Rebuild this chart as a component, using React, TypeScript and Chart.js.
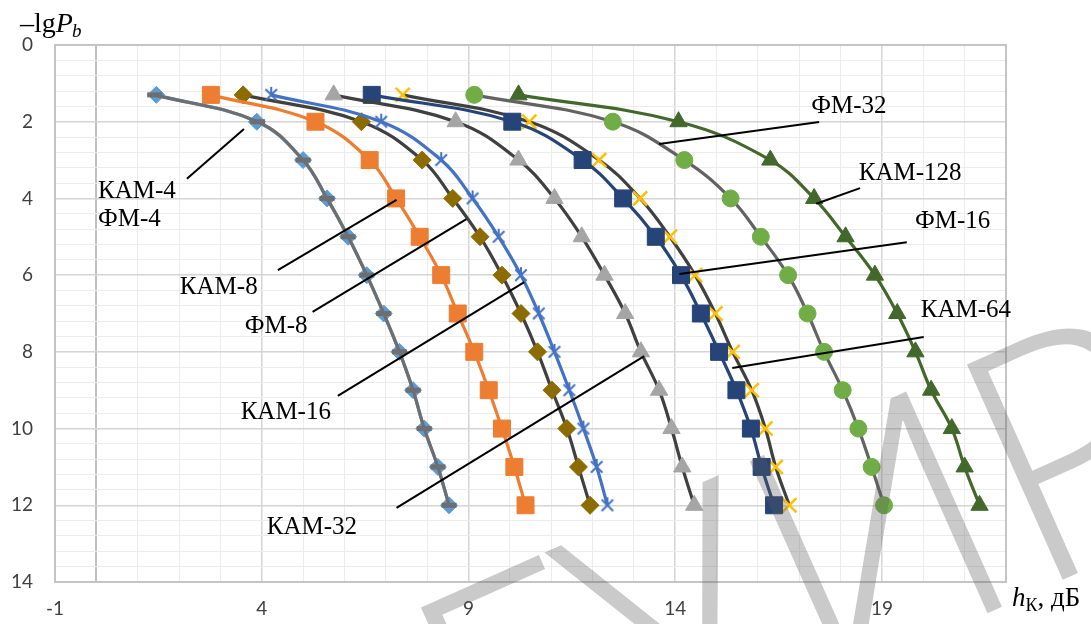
import React, { useEffect, useRef } from "react";
import { Chart, registerables } from "chart.js";

Chart.register(...registerables);

// -lg Pb levels (vertical axis values)
const yLevels = [1.3, 2, 3, 4, 5, 6, 7, 8, 9, 10, 11, 12];

// hK, dB values (horizontal axis) for each modulation
const kam4 = [1.45, 3.88, 5.0, 5.58, 6.09, 6.54, 6.95, 7.33, 7.66, 7.93, 8.26, 8.53];
const fm4 = [1.41, 3.9, 5.0, 5.58, 6.09, 6.54, 6.95, 7.33, 7.66, 7.93, 8.26, 8.53];
const kam8 = [2.77, 5.3, 6.61, 7.25, 7.82, 8.34, 8.74, 9.14, 9.49, 9.81, 10.11, 10.38];
const fm8 = [3.55, 6.41, 7.88, 8.62, 9.28, 9.81, 10.27, 10.67, 11.02, 11.38, 11.66, 11.94];
const kam16 = [4.23, 6.89, 8.34, 9.1, 9.73, 10.27, 10.7, 11.08, 11.44, 11.78, 12.1, 12.36];
const kam32 = [5.74, 8.69, 10.21, 11.08, 11.74, 12.29, 12.79, 13.17, 13.61, 13.91, 14.17, 14.46];
const fm16 = [6.66, 10.06, 11.76, 12.74, 13.53, 14.14, 14.62, 15.06, 15.48, 15.83, 16.09, 16.39];
const kam64 = [7.41, 10.47, 12.16, 13.15, 13.87, 14.48, 14.97, 15.39, 15.85, 16.18, 16.43, 16.76];
const fm32 = [9.14, 12.49, 14.22, 15.34, 16.07, 16.73, 17.2, 17.6, 18.05, 18.43, 18.75, 19.05];
const kam128 = [10.21, 14.08, 16.3, 17.36, 18.12, 18.83, 19.37, 19.81, 20.19, 20.69, 21.0, 21.36];

// axis ticks
const xTickValues = [-1, 4, 9, 14, 19];
const yTickValues = [0, 2, 4, 6, 8, 10, 12, 14];

// annotation labels (data coordinates)
const labelTexts = ["КАМ-4", "ФМ-4", "КАМ-8", "ФМ-8", "КАМ-16", "КАМ-32", "ФМ-32", "КАМ-128", "ФМ-16", "КАМ-64"];
const labelX = [0.04, 0.04, 2.02, 3.59, 3.49, 4.12, 17.29, 18.44, 19.8, 19.94];
const labelY = [3.81, 4.56, 6.33, 7.35, 9.59, 12.57, 1.59, 3.34, 4.59, 6.93];

// leader lines (data coordinates): [x1, y1, x2, y2]
const leaderLines = [
  [2.19, 3.49, 3.57, 2.19],
  [4.39, 5.87, 7.26, 4.04],
  [5.23, 6.96, 8.95, 4.54],
  [5.84, 9.15, 10.35, 6.18],
  [7.26, 12.07, 13.25, 8.11],
  [13.61, 2.58, 17.48, 2.01],
  [17.41, 4.14, 18.47, 3.73],
  [14.1, 5.97, 19.6, 5.14],
  [15.38, 8.42, 20.01, 7.61],
];

const watermarkHead = "БГУ";
const watermarkTail = "ИР";

function pts(xs: number[]) {
  return xs.map((x, i) => ({ x, y: yLevels[i] }));
}

function makeAsterisk(color: string, size: number, lw: number) {
  const c = document.createElement("canvas");
  c.width = size;
  c.height = size;
  const g = c.getContext("2d")!;
  g.strokeStyle = color;
  g.lineWidth = lw;
  const m = size / 2;
  const r = size / 2 - 1;
  const d = r * 0.72;
  g.beginPath();
  g.moveTo(m, m - r);
  g.lineTo(m, m + r * 0.2);
  g.moveTo(m - d, m - d);
  g.lineTo(m + d, m + d);
  g.moveTo(m + d, m - d);
  g.lineTo(m - d, m + d);
  g.stroke();
  return c;
}

const overlayPlugin = {
  id: "overlay",
  afterDatasetsDraw(chart: any) {
    const { ctx, chartArea, scales } = chart;
    const xs = scales.x;
    const ys = scales.y;
    ctx.save();
    ctx.strokeStyle = "#c4c4c4";
    ctx.lineWidth = 2;
    ctx.strokeRect(chartArea.left, chartArea.top, chartArea.right - chartArea.left, chartArea.bottom - chartArea.top);
    ctx.strokeStyle = "#000";
    ctx.lineWidth = 2;
    leaderLines.forEach((l) => {
      ctx.beginPath();
      ctx.moveTo(xs.getPixelForValue(l[0]), ys.getPixelForValue(l[1]));
      ctx.lineTo(xs.getPixelForValue(l[2]), ys.getPixelForValue(l[3]));
      ctx.stroke();
    });
    ctx.fillStyle = "#000";
    ctx.font = "25px 'Liberation Serif'";
    ctx.textBaseline = "middle";
    ctx.textAlign = "left";
    labelTexts.forEach((t, i) => {
      ctx.fillText(t, xs.getPixelForValue(labelX[i]), ys.getPixelForValue(labelY[i]));
    });
    ctx.restore();
  },
  afterDraw(chart: any) {
    const { ctx, chartArea } = chart;
    ctx.save();
    ctx.fillStyle = "#000";
    ctx.textBaseline = "alphabetic";
    ctx.textAlign = "left";
    // y title: -lg P_b
    let x = chartArea.left - 35;
    const yb = chartArea.top - 13;
    ctx.font = "28px 'Liberation Serif'";
    ctx.fillText("–lg", x, yb);
    x += ctx.measureText("–lg").width;
    ctx.font = "italic 28px 'Liberation Serif'";
    ctx.fillText("P", x, yb);
    x += ctx.measureText("P").width;
    ctx.font = "italic 19px 'Liberation Serif'";
    ctx.fillText("b", x - 1, yb + 5);
    // x title: h_K, dB
    let x2 = chartArea.right + 6;
    const yb2 = chartArea.bottom + 24;
    ctx.font = "italic 27px 'Liberation Serif'";
    ctx.fillText("h", x2, yb2);
    x2 += ctx.measureText("h").width;
    ctx.font = "18px 'Liberation Serif'";
    ctx.fillText("К", x2, yb2 + 5);
    x2 += ctx.measureText("К").width;
    ctx.font = "27px 'Liberation Serif'";
    ctx.fillText(", дБ", x2, yb2);
    // watermark
    ctx.translate(815, 690);
    ctx.rotate((-24 * Math.PI) / 180);
    ctx.font = "300 330px 'Open Sans'";
    ctx.fillStyle = "rgba(90,90,90,0.32)";
    ctx.textAlign = "right";
    ctx.fillText(watermarkHead, 0, 0);
    ctx.textAlign = "left";
    ctx.fillText(watermarkTail, 0, 0);
    ctx.restore();
  },
};

export default function App() {
  const ref = useRef<HTMLCanvasElement>(null);
  useEffect(() => {
    const canvas = ref.current!;
    const star = makeAsterisk("#4472c4", 18, 2);
    const base = { showLine: true, tension: 0.4, borderWidth: 3.2, pointBorderWidth: 1 };
    const datasets: any[] = [
      { ...base, label: "ФМ-4", data: pts(fm4), borderColor: "#6e6e6e", pointStyle: "line", pointRadius: 7.5, pointBorderWidth: 5, pointBorderColor: "#6e6e6e", order: 1 },
      { ...base, label: "КАМ-4", data: pts(kam4), borderColor: "#5b9bd5", pointStyle: "rectRot", pointRadius: 8.5, pointBackgroundColor: "#5b9bd5", pointBorderColor: "#5b9bd5", order: 2 },
      { ...base, label: "КАМ-8", data: pts(kam8), borderColor: "#ed7d31", pointStyle: "rect", pointRadius: 12, pointBackgroundColor: "#ed7d31", pointBorderColor: "#ed7d31", order: 3 },
      { ...base, label: "ФМ-8", data: pts(fm8), borderColor: "#404040", pointStyle: "rectRot", pointRadius: 9, pointBackgroundColor: "#8c6c00", pointBorderColor: "#8c6c00", order: 5 },
      { ...base, label: "КАМ-16", data: pts(kam16), borderColor: "#4472c4", pointStyle: star, pointRadius: 9, order: 4 },
      { ...base, label: "КАМ-32", data: pts(kam32), borderColor: "#404040", pointStyle: "triangle", pointRadius: 10, pointBackgroundColor: "#a5a5a5", pointBorderColor: "#a5a5a5", order: 6 },
      { ...base, label: "ФМ-16", data: pts(fm16), borderColor: "#264478", pointStyle: "rect", pointRadius: 12, pointBackgroundColor: "#264478", pointBorderColor: "#264478", order: 7 },
      { ...base, label: "КАМ-64", data: pts(kam64), borderColor: "#404040", pointStyle: "crossRot", pointRadius: 10, pointBorderWidth: 2.5, pointBorderColor: "#ffc000", order: 8 },
      { ...base, label: "ФМ-32", data: pts(fm32), borderColor: "#636363", pointStyle: "circle", pointRadius: 8.5, pointBackgroundColor: "#70ad47", pointBorderColor: "#70ad47", order: 9 },
      { ...base, label: "КАМ-128", data: pts(kam128), borderColor: "#43682b", pointStyle: "triangle", pointRadius: 10, pointBackgroundColor: "#43682b", pointBorderColor: "#43682b", order: 10 },
    ];
    const isMajorX = (v: number) => xTickValues.includes(v);
    const isMajorY = (v: number) => yTickValues.some((t) => Math.abs(t - v) < 1e-6);
    const chart = new Chart(canvas, {
      type: "scatter",
      data: { datasets },
      plugins: [overlayPlugin],
      options: {
        animation: false,
        responsive: false,
        devicePixelRatio: 1,
        layout: { padding: { top: 45, right: 85, left: 0, bottom: 0 } },
        plugins: { legend: { display: false }, tooltip: { enabled: false } },
        scales: {
          x: {
            type: "linear",
            min: -1,
            max: 22,
            afterBuildTicks: (s: any) => {
              const t = [];
              for (let v = -1; v <= 22; v++) t.push({ value: v });
              s.ticks = t;
            },
            afterFit: (s: any) => {
              s.height = 42;
            },
            border: { display: false },
            grid: {
              drawTicks: false,
              color: (c: any) => (c.tick.value === 0 ? "#bfbfbf" : isMajorX(c.tick.value) ? "#d4d4d4" : "#ececec"),
              lineWidth: (c: any) => (c.tick.value === 0 ? 2 : isMajorX(c.tick.value) ? 1.5 : 1),
            },
            ticks: {
              autoSkip: false,
              maxRotation: 0,
              padding: 15,
              color: "#404040",
              font: { family: "Lato", size: 19 },
              callback: (v: any) => (isMajorX(Number(v)) ? String(v) : ""),
            },
          },
          y: {
            type: "linear",
            reverse: true,
            min: 0,
            max: 14,
            afterBuildTicks: (s: any) => {
              const t = [];
              for (let k = 0; k <= 35; k++) t.push({ value: Math.round(k * 4) / 10 });
              s.ticks = t;
            },
            afterFit: (s: any) => {
              s.width = 55;
            },
            border: { display: false },
            grid: {
              drawTicks: false,
              color: (c: any) => (isMajorY(c.tick.value) ? "#d4d4d4" : "#ececec"),
              lineWidth: (c: any) => (isMajorY(c.tick.value) ? 1.5 : 1),
            },
            ticks: {
              autoSkip: false,
              padding: 22,
              color: "#404040",
              font: { family: "Lato", size: 19 },
              callback: (v: any) => (isMajorY(Number(v)) ? String(Math.round(Number(v))) : ""),
            },
          },
        },
      },
    } as any);
    return () => chart.destroy();
  }, []);
  return (
    <div style={{ position: "fixed", left: 0, top: 0, width: 1091, height: 624, background: "#fff" }}>
      <canvas ref={ref} width={1091} height={624} style={{ display: "block", width: 1091, height: 624 }} />
    </div>
  );
}
